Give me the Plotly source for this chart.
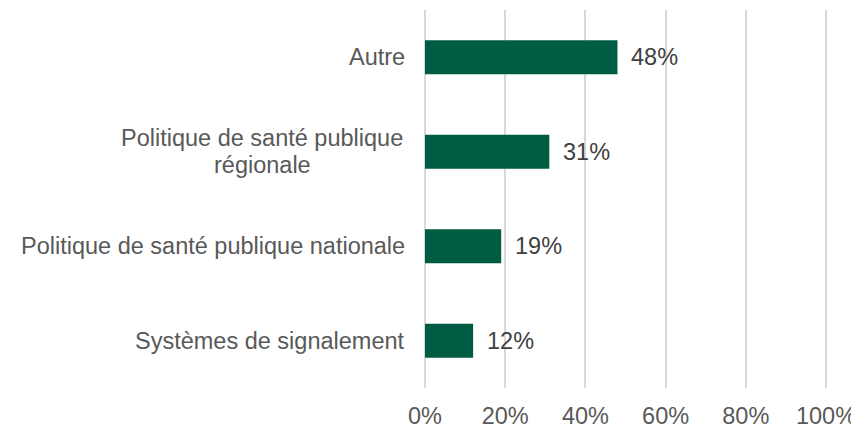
import plotly.graph_objects as go

categories = ["Systèmes de signalement",
              "Politique de santé publique nationale",
              "Politique de santé publique\nrégionale",
              "Autre"]
values = [0.12, 0.19, 0.31, 0.48]
x_ticks = [0, 0.2, 0.4, 0.6, 0.8, 1.0]
x_tick_labels = ["0%", "20%", "40%", "60%", "80%", "100%"]

GREEN = "#005C42"
GREY_TEXT = "#595959"
FONT = "Liberation Sans, Arial, sans-serif"

ycats = [c.replace("\n", " ") for c in categories]

fig = go.Figure()
fig.add_trace(go.Bar(
    x=values, y=ycats, orientation="h",
    marker=dict(color=GREEN, line=dict(width=0)),
    width=0.36, hoverinfo="skip",
))

annotations = []
# value labels
for v, c in zip(values, ycats):
    annotations.append(dict(
        x=v, y=c, xref="x", yref="y", text=f"{round(v*100)}%",
        showarrow=False, xanchor="left", yanchor="middle", xshift=12,
        font=dict(family=FONT, size=23.5, color="#404040"),
    ))
# category labels (centered multi-line)
line_gap = 27
for c, yc in zip(categories, ycats):
    lines = c.split("\n")
    n = len(lines)
    for i, ln in enumerate(lines):
        shift = ((n - 1) / 2 - i) * line_gap
        annotations.append(dict(
            x=0, y=yc, xref="paper", yref="y", text=ln,
            showarrow=False, xanchor="center" if n > 1 else "right",
            yanchor="middle", yshift=shift,
            xshift=-161 if n > 1 else -16,
            font=dict(family=FONT, size=23.5, color=GREY_TEXT),
        ))

fig.update_layout(
    width=851, height=419,
    margin=dict(l=415, r=31, t=1.5, b=38.5, autoexpand=False),
    paper_bgcolor="white", plot_bgcolor="white",
    showlegend=False,
    annotations=annotations,
    xaxis=dict(
        range=[-0.005, 1.005], tickvals=x_ticks, ticktext=x_tick_labels,
        showgrid=True, gridcolor="#D9D9D9", gridwidth=1.5,
        zeroline=False, showline=False, ticks="",
        ticklabelstandoff=11,
        tickfont=dict(family=FONT, size=23.5, color=GREY_TEXT),
        fixedrange=True,
    ),
    yaxis=dict(
        categoryorder="array", categoryarray=ycats,
        range=[-0.5, 3.5], showticklabels=False, showgrid=False,
        zeroline=False, showline=False, ticks="", fixedrange=True,
    ),
)

fig.write_html("out.html")
